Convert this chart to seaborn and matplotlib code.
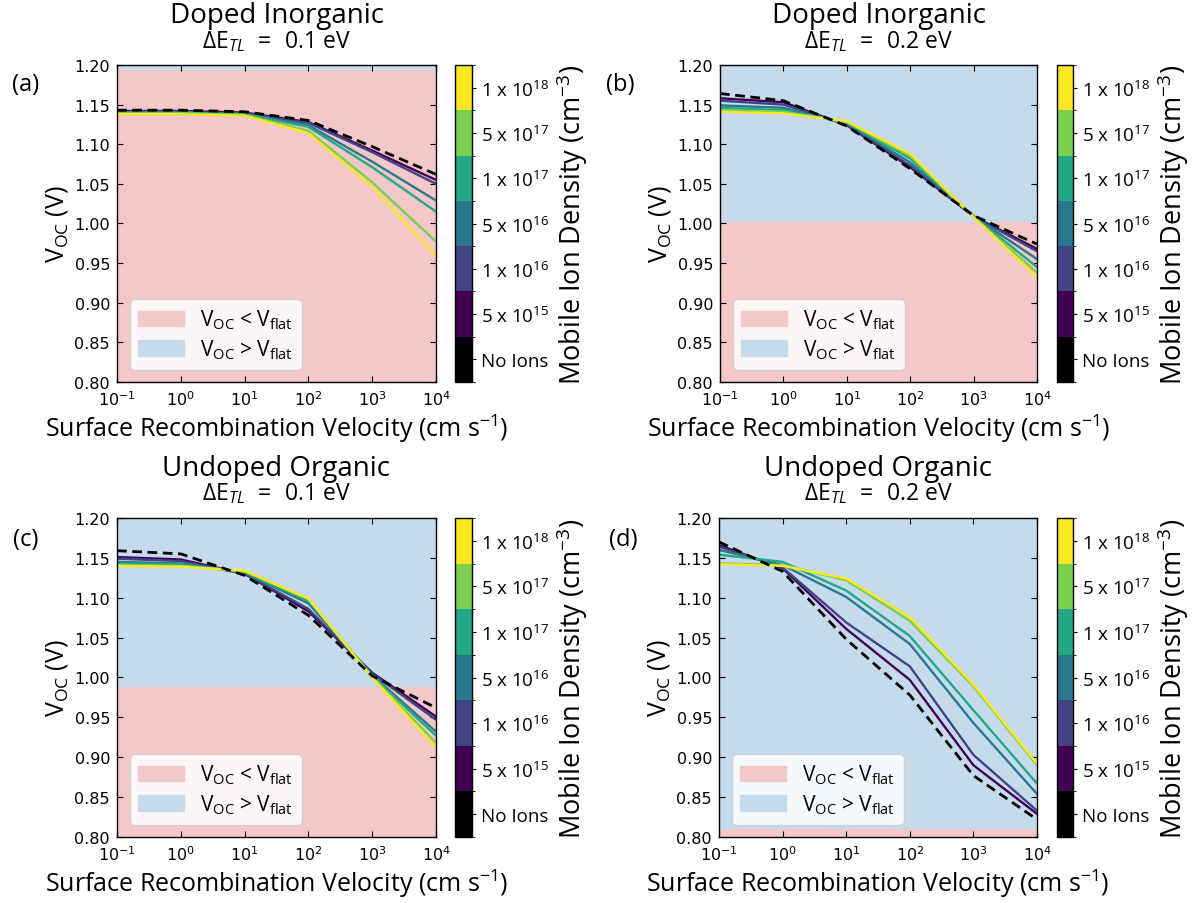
import numpy as np
import pandas as pd
import matplotlib
matplotlib.use("Agg")
import matplotlib.pyplot as plt
import seaborn as sns
from matplotlib.colors import ListedColormap, BoundaryNorm
from matplotlib.cm import ScalarMappable
from matplotlib.patches import Patch
from matplotlib.ticker import FixedLocator, NullLocator, FormatStrFormatter

# ---------------------------------------------------------------- data
srv = [1e-1, 1e0, 1e1, 1e2, 1e3, 1e4]          # surface recombination velocity (cm s^-1)

densities = ["No Ions", "5 x 10$^{15}$", "1 x 10$^{16}$", "5 x 10$^{16}$",
             "1 x 10$^{17}$", "5 x 10$^{17}$", "1 x 10$^{18}$"]

titles = ["Doped Inorganic", "Doped Inorganic", "Undoped Organic", "Undoped Organic"]
delta_e = ["0.1", "0.2", "0.1", "0.2"]
letters = ["(a)", "(b)", "(c)", "(d)"]

# flat-band voltage of each device (V)
vflat = [1.194, 1.002, 0.988, 0.810]

# Voc (V) per ion density: rows follow `densities`, columns follow `srv`
voc_a = [
    [1.143, 1.143, 1.141, 1.130, 1.097, 1.062],
    [1.142, 1.142, 1.140, 1.128, 1.092, 1.055],
    [1.141, 1.141, 1.139, 1.127, 1.090, 1.050],
    [1.140, 1.140, 1.138, 1.124, 1.078, 1.029],
    [1.140, 1.140, 1.138, 1.122, 1.071, 1.015],
    [1.139, 1.139, 1.137, 1.117, 1.052, 0.977],
    [1.138, 1.138, 1.136, 1.114, 1.046, 0.959],
]
voc_b = [
    [1.164, 1.155, 1.123, 1.069, 1.010, 0.974],
    [1.158, 1.153, 1.124, 1.071, 1.009, 0.968],
    [1.155, 1.150, 1.125, 1.073, 1.009, 0.965],
    [1.149, 1.146, 1.126, 1.077, 1.009, 0.955],
    [1.146, 1.143, 1.127, 1.082, 1.009, 0.945],
    [1.143, 1.141, 1.128, 1.085, 1.008, 0.938],
    [1.141, 1.139, 1.129, 1.088, 1.008, 0.932],
]
voc_c = [
    [1.159, 1.155, 1.128, 1.078, 1.002, 0.962],
    [1.151, 1.148, 1.130, 1.083, 1.006, 0.951],
    [1.149, 1.146, 1.130, 1.086, 1.005, 0.947],
    [1.145, 1.143, 1.131, 1.093, 1.003, 0.932],
    [1.143, 1.142, 1.132, 1.096, 1.002, 0.927],
    [1.141, 1.140, 1.133, 1.098, 1.001, 0.918],
    [1.140, 1.139, 1.134, 1.099, 1.000, 0.912],
]
voc_d = [
    [1.170, 1.133, 1.048, 0.978, 0.877, 0.822],
    [1.166, 1.137, 1.061, 0.997, 0.890, 0.829],
    [1.164, 1.138, 1.069, 1.014, 0.903, 0.833],
    [1.160, 1.141, 1.101, 1.042, 0.943, 0.854],
    [1.154, 1.145, 1.109, 1.052, 0.959, 0.867],
    [1.143, 1.141, 1.122, 1.071, 0.989, 0.890],
    [1.142, 1.140, 1.124, 1.076, 0.991, 0.892],
]
panels = [voc_a, voc_b, voc_c, voc_d]

# ---------------------------------------------------------------- style
sns.set_style("ticks")
plt.rcParams["font.family"] = ["Open Sans", "DejaVu Sans"]
plt.rcParams["mathtext.fontset"] = "custom"
plt.rcParams["mathtext.rm"] = "Open Sans"
plt.rcParams["mathtext.it"] = "Open Sans:italic"
plt.rcParams["mathtext.bf"] = "Open Sans:bold"
for key in ["text.color", "axes.labelcolor", "axes.edgecolor",
            "xtick.color", "ytick.color"]:
    plt.rcParams[key] = "black"
plt.rcParams["axes.linewidth"] = 1.0

viridis = plt.get_cmap("viridis")
ion_colors = [viridis(v) for v in np.linspace(0, 1, 6)]
palette = dict(zip(densities[1:], ion_colors))
cmap = ListedColormap(["black"] + ion_colors)
norm = BoundaryNorm(np.arange(8), 7)

pink = "#f4c8c8"
blue = "#c5dbeb"

W, H = 1195, 904
fig = plt.figure(figsize=(W / 100, H / 100), dpi=100)


def box(l, t, r, b):
    return [l / W, 1 - b / H, (r - l) / W, (b - t) / H]


ax_boxes = [(117, 66, 436, 383), (720, 66, 1037, 383),
            (117, 519, 436, 838), (719, 519, 1037, 838)]
cb_boxes = [(455, 66, 472, 383), (1057, 66, 1073, 383),
            (455, 519, 472, 838), (1057, 519, 1073, 838)]
letter_pos = [(26, 85), (620, 85), (26, 540), (623, 540)]

for i, voc in enumerate(panels):
    ax = fig.add_axes(box(*ax_boxes[i]))

    # regions above / below the flat-band voltage
    ax.axhspan(0.80, vflat[i], color=pink, lw=0, zorder=0)
    ax.axhspan(vflat[i], 1.20, color=blue, lw=0, zorder=0)

    rows = []
    for name, vals in zip(densities[1:], voc[1:]):
        for s, v in zip(srv, vals):
            rows.append({"srv": s, "voc": v, "density": name})
    df = pd.DataFrame(rows)
    sns.lineplot(data=df, x="srv", y="voc", hue="density", hue_order=densities[1:],
                 palette=palette, linewidth=1.7, estimator=None, sort=False,
                 legend=False, ax=ax, zorder=2)
    sns.lineplot(x=srv, y=voc[0], color="black", linestyle=(0, (3.5, 2)),
                 linewidth=2.0, estimator=None, sort=False, ax=ax, zorder=3)

    ax.set_xscale("log")
    ax.set_xlim(1e-1, 1e4)
    ax.set_ylim(0.80, 1.20)
    ax.xaxis.set_major_locator(FixedLocator(srv))
    ax.xaxis.set_minor_locator(NullLocator())
    ax.yaxis.set_major_locator(FixedLocator(np.arange(0.80, 1.2001, 0.05)))
    ax.yaxis.set_major_formatter(FormatStrFormatter("%.2f"))
    ax.tick_params(direction="in", top=True, right=True, length=4, width=0.8,
                   labelsize=11.5, pad=5, labelfontfamily="DejaVu Sans")

    ax.set_xlabel("Surface Recombination Velocity (cm s$^{-1}$)", fontsize=18, labelpad=3)
    ax.set_ylabel("V$_{\\mathrm{OC}}$ (V)", fontsize=18, labelpad=3)

    ax.text(0.5, 1.136, titles[i], transform=ax.transAxes, ha="center", va="baseline",
            fontsize=20)
    ax.text(0.5, 1.058, "ΔE$_{TL}$ $\\,=\\,$ " + delta_e[i] + " eV", transform=ax.transAxes,
            ha="center", va="baseline", fontsize=16.5)

    handles = [Patch(color=pink, label="V$_{\\mathrm{OC}}$ < V$_{\\mathrm{flat}}$"),
               Patch(color=blue, label="V$_{\\mathrm{OC}}$ > V$_{\\mathrm{flat}}$")]
    ax.legend(handles=handles, loc="lower left", fontsize=15, framealpha=0.85,
              handlelength=2.2, handleheight=0.8, borderaxespad=0.6,
              labelspacing=0.3)

    lx, ly = letter_pos[i]
    fig.text(lx / W, 1 - ly / H, letters[i], fontsize=17, ha="center", va="center")

    cax = fig.add_axes(box(*cb_boxes[i]))
    cb = fig.colorbar(ScalarMappable(norm=norm, cmap=cmap), cax=cax,
                      ticks=np.arange(7) + 0.5)
    cb.ax.set_yticklabels(densities, fontsize=13.5)
    cb.ax.tick_params(length=3, width=0.8)
    cb.outline.set_linewidth(1.0)
    cb.set_label("Mobile Ion Density (cm$^{-3}$)", fontsize=19.5, labelpad=4)

fig.savefig("out.png", dpi=100)
